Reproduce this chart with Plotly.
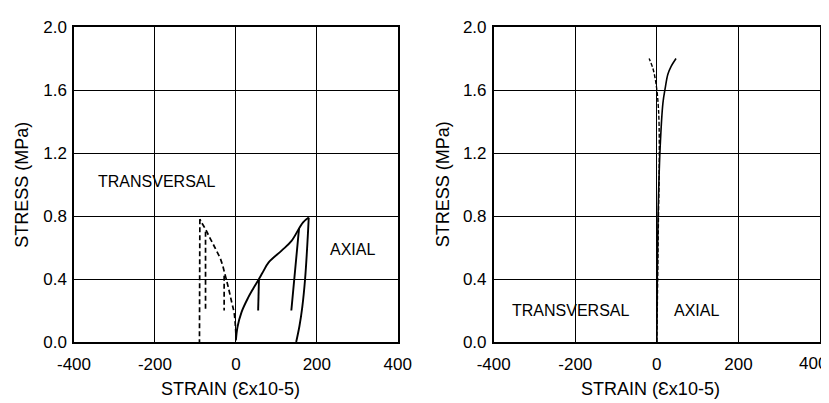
import plotly.graph_objects as go
from plotly.subplots import make_subplots

# ---- Left panel data (strain x10^-5, stress MPa) ----
left_axial_env_x = [0, 4, 14, 30, 43, 57, 65, 81, 113, 137, 156, 166, 180]
left_axial_env_y = [0.01, 0.095, 0.19, 0.28, 0.34, 0.40, 0.436, 0.505, 0.58, 0.64, 0.72, 0.76, 0.79]
left_axial_unl1_x = [57, 55]
left_axial_unl1_y = [0.40, 0.20]
left_axial_unl2_x = [156, 137]
left_axial_unl2_y = [0.72, 0.20]
left_axial_unl3_x = [180, 177, 171, 164, 157, 149]
left_axial_unl3_y = [0.79, 0.64, 0.40, 0.22, 0.10, 0.0]

left_trans_env_x = [0, -4, -11, -19, -27, -37, -52, -64, -76, -85, -89]
left_trans_env_y = [0.05, 0.18, 0.26, 0.35, 0.43, 0.52, 0.60, 0.66, 0.72, 0.76, 0.78]
left_trans_unl1_x = [-29, -29]
left_trans_unl1_y = [0.42, 0.20]
left_trans_unl2_x = [-75, -75]
left_trans_unl2_y = [0.70, 0.20]
left_trans_unl3_x = [-89, -90]
left_trans_unl3_y = [0.78, 0.0]

# ---- Right panel data ----
right_axial_x = [0, 1, 3, 8, 15, 21, 27, 35, 47]
right_axial_y = [0.0, 0.4, 0.8, 1.23, 1.52, 1.62, 1.70, 1.75, 1.80]
right_trans_x = [0, 2, 4, 6, 4, -2, -10, -19]
right_trans_y = [0.0, 0.4, 0.8, 1.23, 1.48, 1.64, 1.74, 1.80]

x_ticks = [-400, -200, 0, 200, 400]
y_ticks = [0.0, 0.4, 0.8, 1.2, 1.6, 2.0]
y_ticklabels = ["0.0", "0.4", "0.8", "1.2", "1.6", "2.0"]

FONT = "Arial, Liberation Sans, sans-serif"

fig = make_subplots(rows=1, cols=2)
fig.update_layout(xaxis=dict(domain=[0.0, 0.434]), xaxis2=dict(domain=[0.5626, 1.0]))

solid = dict(color="black", width=1.9)

for xs, ys in [(left_axial_env_x, left_axial_env_y), (left_axial_unl1_x, left_axial_unl1_y),
               (left_axial_unl2_x, left_axial_unl2_y), (left_axial_unl3_x, left_axial_unl3_y)]:
    fig.add_trace(go.Scatter(x=xs, y=ys, mode="lines", line=solid, line_shape="spline",
                             showlegend=False), row=1, col=1)
for xs, ys in [(left_trans_env_x, left_trans_env_y), (left_trans_unl1_x, left_trans_unl1_y),
               (left_trans_unl2_x, left_trans_unl2_y), (left_trans_unl3_x, left_trans_unl3_y)]:
    fig.add_trace(go.Scatter(x=xs, y=ys, mode="lines", line=dict(color="black", width=1.7, dash="5px,3px"),
                             line_shape="spline", showlegend=False), row=1, col=1)

fig.add_trace(go.Scatter(x=right_axial_x, y=right_axial_y, mode="lines", line=dict(color="black", width=1.6),
                         line_shape="spline", showlegend=False), row=1, col=2)
fig.add_trace(go.Scatter(x=right_trans_x, y=right_trans_y, mode="lines",
                         line=dict(color="black", width=1.4, dash="4px,2px"),
                         line_shape="spline", showlegend=False), row=1, col=2)

axis_common = dict(showline=True, linecolor="black", linewidth=1.5, mirror=True,
                   showgrid=True, gridcolor="black", gridwidth=1.3, zeroline=False,
                   ticks="outside", tickcolor="rgba(0,0,0,0)",
                   tickfont=dict(family=FONT, size=17, color="black"))

fig.update_xaxes(range=[-400, 400], tickvals=x_ticks, ticktext=[str(v) for v in x_ticks],
                 ticklen=6, row=1, col=1, **axis_common)
# the right panel's last label sits flush with the page edge, so it is placed as an annotation
fig.update_xaxes(range=[-400, 400], tickvals=x_ticks, ticktext=[str(v) for v in x_ticks[:-1]] + [""],
                 ticklen=6, row=1, col=2, **axis_common)
for c in (1, 2):
    fig.update_yaxes(range=[0, 2.0], tickvals=y_ticks, ticktext=y_ticklabels,
                     ticklen=2, row=1, col=c, **axis_common)

fig.update_layout(
    width=836, height=395,
    margin=dict(l=66, r=10, t=10, b=61),
    plot_bgcolor="white", paper_bgcolor="white",
    font=dict(family=FONT, color="black"),
    showlegend=False,
)

ann_font = dict(family=FONT, size=16, color="black")
title_font = dict(family=FONT, size=18, color="black")
annotations = [
    dict(x=-195, y=1.02, xref="x", yref="y", text="TRANSVERSAL", showarrow=False, font=ann_font),
    dict(x=289, y=0.59, xref="x", yref="y", text="AXIAL", showarrow=False, font=ann_font),
    dict(x=-211, y=0.197, xref="x2", yref="y2", text="TRANSVERSAL", showarrow=False, font=ann_font),
    dict(x=96, y=0.197, xref="x2", yref="y2", text="AXIAL", showarrow=False, font=ann_font),
    dict(x=1.0125, y=-0.0695, xref="paper", yref="paper", text=str(x_ticks[-1]), showarrow=False,
         xanchor="right", yanchor="middle", font=dict(family=FONT, size=17, color="black")),
    dict(x=0.2104, y=-0.148, xref="paper", yref="paper", text="STRAIN (Ɛx10-5)", showarrow=False,
         xanchor="center", yanchor="middle", font=title_font),
    dict(x=0.7729, y=-0.148, xref="paper", yref="paper", text="STRAIN (Ɛx10-5)", showarrow=False,
         xanchor="center", yanchor="middle", font=title_font),
    dict(x=-0.0708, y=0.5, xref="paper", yref="paper", text="STRESS (MPa)", showarrow=False,
         xanchor="center", yanchor="middle", textangle=-90, font=title_font),
    dict(x=0.4943, y=0.5, xref="paper", yref="paper", text="STRESS (MPa)", showarrow=False,
         xanchor="center", yanchor="middle", textangle=-90, font=title_font),
]
fig.update_layout(annotations=annotations)

fig.write_html("out.html")
